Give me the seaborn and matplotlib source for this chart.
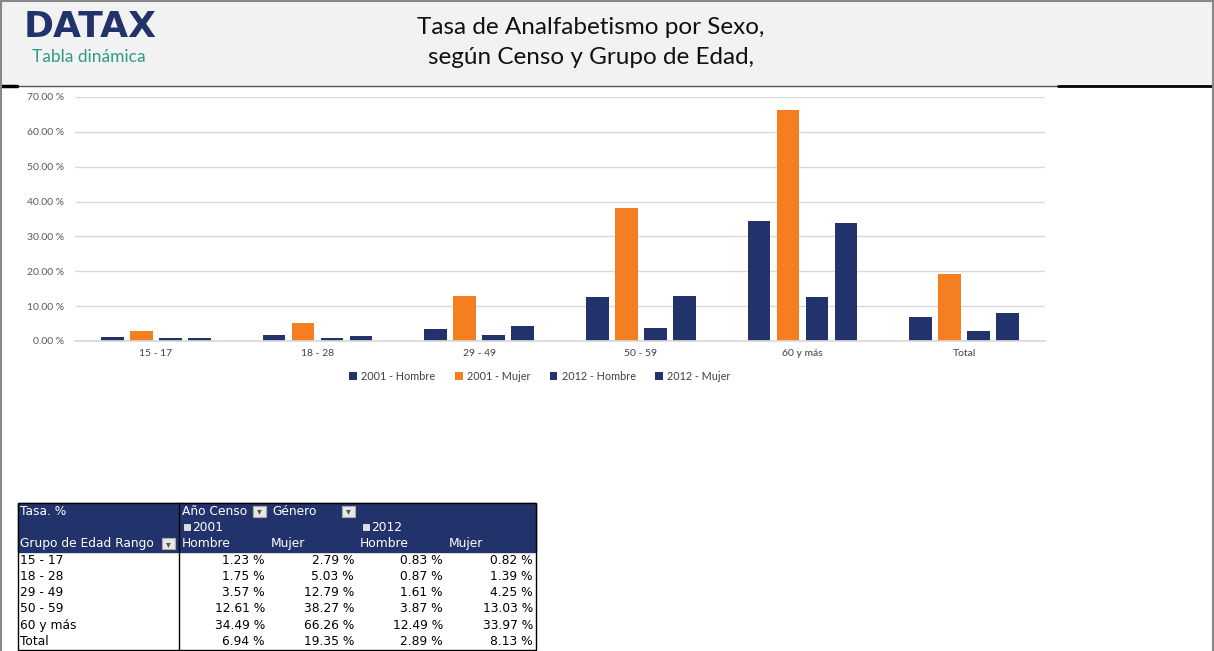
import pandas as pd
import numpy as np
import matplotlib
matplotlib.use("Agg")
import matplotlib.pyplot as plt
import seaborn as sns
from matplotlib.patches import Rectangle

grupos = ["15 - 17", "18 - 28", "29 - 49", "50 - 59", "60 y más", "Total"]
series = ["2001 - Hombre", "2001 - Mujer", "2012 - Hombre", "2012 - Mujer"]
h2001 = [1.23, 1.75, 3.57, 12.61, 34.49, 6.94]
m2001 = [2.79, 5.03, 12.79, 38.27, 66.26, 19.35]
h2012 = [0.83, 0.87, 1.61, 3.87, 12.49, 2.89]
m2012 = [0.82, 1.39, 4.25, 13.03, 33.97, 8.13]
yticks = [0, 10, 20, 30, 40, 50, 60, 70]

navy = "#22336b"
orange = "#f47e20"
colores = [navy, orange, navy, navy]

rows = []
for s, vals in zip(series, [h2001, m2001, h2012, m2012]):
    for g, v in zip(grupos, vals):
        rows.append({"grupo": g, "serie": s, "tasa": v})
df = pd.DataFrame(rows)

sns.set_theme(style="white")
plt.rcParams["font.family"] = ["Lato", "DejaVu Sans"]

W, H = 1214, 651
fig = plt.figure(figsize=(W / 100, H / 100), dpi=100)

# background overlay in pixel coords
bg = fig.add_axes([0, 0, 1, 1])
bg.set_xlim(0, W)
bg.set_ylim(H, 0)
bg.axis("off")
bg.add_patch(Rectangle((0, 0), W, 85, color="#f2f2f2", zorder=0))
bg.plot([0, 1058], [85.5, 85.5], color="#555555", lw=1)
bg.plot([1058, W], [86, 86], color="black", lw=2)
bg.plot([0, 17], [86, 86], color="black", lw=2.5)
bg.plot([0.5, 0.5], [0, H], color="#888888", lw=1.5)
bg.plot([W - 1.5, W - 1.5], [0, H], color="#888888", lw=1.5)
bg.plot([0, W], [0.5, 0.5], color="#888888", lw=1.5)

bg.text(24, 27, "DATAX", fontsize=26, fontweight="bold", color=navy,
        va="center", ha="left", family="DejaVu Sans")
bg.text(32, 57, "Tabla dinámica", fontsize=12.5, color="#2e9a86",
        va="center", ha="left")
bg.text(591, 28, "Tasa de Analfabetismo por Sexo,", fontsize=17.5,
        color="#111111", ha="center", va="center")
bg.text(591, 57, "según Censo y Grupo de Edad,", fontsize=17.5,
        color="#111111", ha="center", va="center")

# ---- bar chart ----
ax = fig.add_axes([75 / W, 1 - 341 / H, 970 / W, 244 / H])
sns.barplot(data=df, x="grupo", y="tasa", hue="serie", palette=colores,
            saturation=1, width=0.72, gap=0.22, linewidth=0, ax=ax, legend=True)
ax.set_ylim(0, 70)
ax.set_yticks(yticks)
ax.set_yticklabels([f"{t:.2f} %" for t in yticks], fontsize=7.5, color="#595959")
ax.tick_params(axis="x", labelsize=7.5, colors="#404040", length=0, pad=6)
ax.tick_params(axis="y", length=0, pad=8)
ax.yaxis.grid(True, color="#d9d9d9", lw=1)
ax.set_axisbelow(True)
ax.set_xlabel("")
ax.set_ylabel("")
for sp in ["top", "right", "left"]:
    ax.spines[sp].set_visible(False)
ax.spines["bottom"].set_color("#d9d9d9")
ax.set_xlim(-0.5, 5.5)

handles, labels = ax.get_legend_handles_labels()
ax.legend(handles, labels, loc="center", bbox_to_anchor=(540 / W, 1 - 376 / H),
          bbox_transform=fig.transFigure, ncol=4, frameon=False, fontsize=7.8,
          handlelength=0.7, handleheight=0.7, columnspacing=1.8,
          handletextpad=0.4, labelcolor="#404040")

# ---- pivot table ----
xs = [18, 179, 268, 357, 446, 536]
top = 503
rh = 16.3
tfs = 8.8
bg.add_patch(Rectangle((xs[0], top), xs[-1] - xs[0], 3 * rh, color=navy, zorder=2))
bg.add_patch(Rectangle((xs[0], top), xs[-1] - xs[0], 9 * rh, fill=False,
                       edgecolor="black", lw=1, zorder=3))
bg.plot([xs[1], xs[1]], [top, top + 9 * rh], color="black", lw=1, zorder=3)

def cy(i):
    return top + rh * (i + 0.5)

tk = dict(fontsize=tfs, va="center", zorder=4, family="DejaVu Sans")
bg.text(20, cy(0), "Tasa. %", color="white", ha="left", **tk)
bg.text(182, cy(0), "Año Censo", color="white", ha="left", **tk)
bg.text(272, cy(0), "Género", color="white", ha="left", **tk)
bg.text(20, cy(2), "Grupo de Edad Rango", color="white", ha="left", **tk)

# filter buttons
for bx, r in [(253, 0), (342, 0), (162, 2)]:
    bg.add_patch(Rectangle((bx, cy(r) - 5.5), 13, 11, facecolor="#e8e8e8",
                           edgecolor="#aaaaaa", lw=0.8, zorder=4))
    bg.text(bx + 6.5, cy(r), "▾", fontsize=7, color="#555555", ha="center",
            va="center", zorder=5, family="DejaVu Sans")

for x0, yr in [(184, "2001"), (363, "2012")]:
    bg.add_patch(Rectangle((x0, cy(1) - 3), 6, 6, facecolor="#dddddd",
                           edgecolor="white", lw=0.5, zorder=4))
    bg.text(x0 + 8, cy(1), yr, color="white", ha="left", **tk)

for i, lab in enumerate(["Hombre", "Mujer", "Hombre", "Mujer"]):
    bg.text(xs[i + 1] + 3, cy(2), lab, color="white", ha="left", **tk)

cols = [h2001, m2001, h2012, m2012]
for r, g in enumerate(grupos):
    bg.text(20, cy(3 + r), g, color="black", ha="left", **tk)
    for c, vals in enumerate(cols):
        bg.text(xs[c + 2] - 3, cy(3 + r), f"{vals[r]:.2f} %", color="black",
                ha="right", **tk)

fig.savefig("out.png", dpi=100)
